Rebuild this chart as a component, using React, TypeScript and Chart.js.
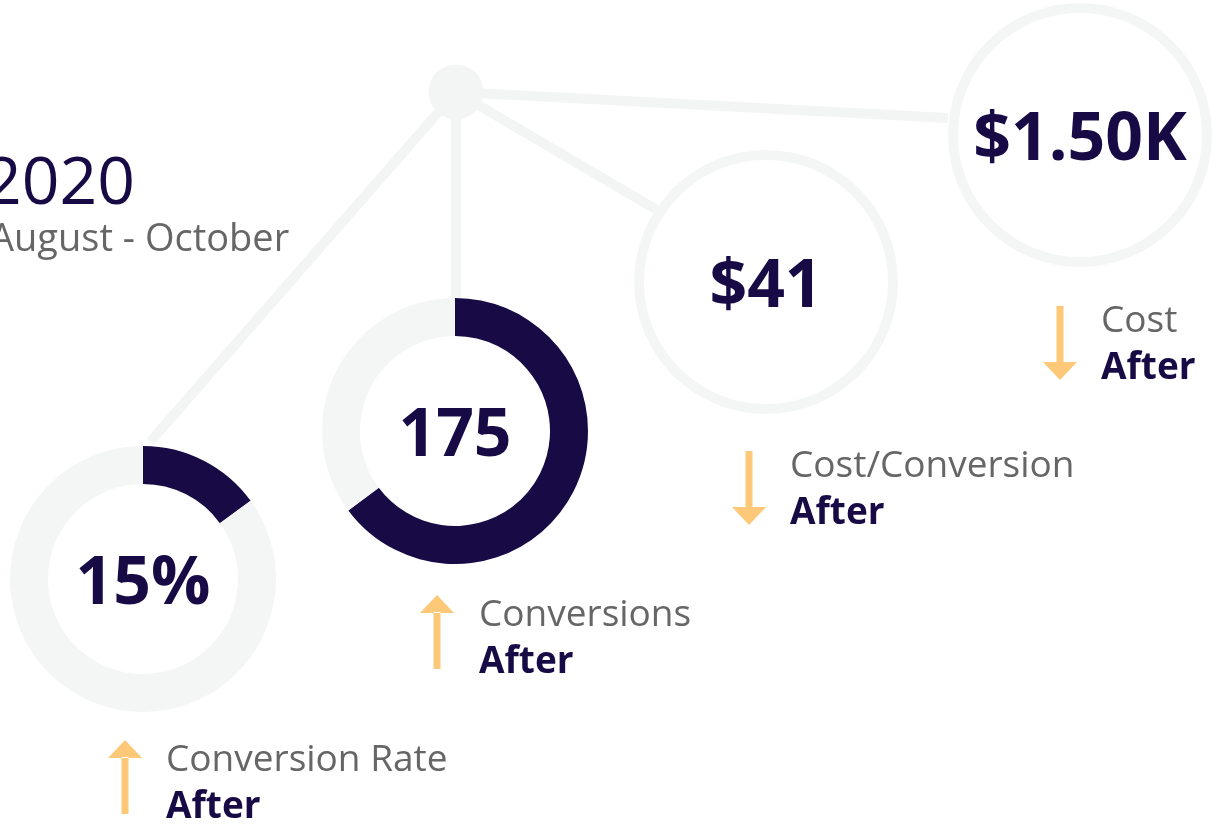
import React, { useEffect, useRef } from "react";
import { Chart, registerables } from "chart.js";

Chart.register(...registerables);

// ---- data ----
const metricNames = ["Conversion Rate", "Conversions", "Cost/Conversion", "Cost"];
const metricValues = [15, 175, 41, 1500];
const metricScaleMax = [100, 270, 41, 1500];
const metricDisplay = ["15%", "175", "$41", "$1.50K"];
const metricTrend = ["up", "up", "down", "down"];
const compareLabel = "After";
const periodYear = "2020";
const periodRange = "August - October";

// ---- styles / layout ----
const W = 1218;
const H = 832;
const FONT = '"Open Sans", "Noto Sans", sans-serif';
const NAVY = "#170a45";
const RING_GREY = "#f4f6f5";
const LINE_GREY = "#f3f5f4";
const ORANGE = "#fdc878";
const TEXT_GREY = "#666666";

const ringLayout = [
  { cx: 143, cy: 579, r: 133, thick: 38, kind: "progress" },
  { cx: 455, cy: 431, r: 133, thick: 38, kind: "progress" },
  { cx: 766, cy: 282, r: 132, thick: 10, kind: "outline" },
  { cx: 1080, cy: 135, r: 132, thick: 10, kind: "outline" },
];
const labelLayout = [
  { ax: 125, tx: 166, base: 771 },
  { ax: 437, tx: 479, base: 626 },
  { ax: 749, tx: 790, base: 477 },
  { ax: 1060, tx: 1101, base: 332 },
];
const hub = { x: 456, y: 92, r: 27.5 };
const connectorEnds = [
  { x: 150, y: 442 },
  { x: 456, y: 298 },
  { x: 657, y: 210 },
  { x: 948, y: 118 },
];

function drawArrow(ctx: CanvasRenderingContext2D, x: number, top: number, bottom: number, dir: string) {
  const headH = 18;
  const headW = 34;
  const shaft = 7;
  ctx.fillStyle = ORANGE;
  ctx.beginPath();
  if (dir === "up") {
    ctx.rect(x - shaft / 2, top + headH - 1, shaft, bottom - top - headH + 1);
    ctx.moveTo(x, top);
    ctx.lineTo(x - headW / 2, top + headH);
    ctx.lineTo(x + headW / 2, top + headH);
    ctx.closePath();
  } else {
    ctx.rect(x - shaft / 2, top, shaft, bottom - top - headH + 1);
    ctx.moveTo(x, bottom);
    ctx.lineTo(x - headW / 2, bottom - headH);
    ctx.lineTo(x + headW / 2, bottom - headH);
    ctx.closePath();
  }
  ctx.fill();
}

function Backdrop() {
  const ref = useRef<HTMLCanvasElement | null>(null);
  useEffect(() => {
    const backdrop = {
      id: "backdrop",
      beforeDraw(chart: any) {
        const ctx = chart.ctx as CanvasRenderingContext2D;
        ctx.save();
        ctx.strokeStyle = LINE_GREY;
        ctx.lineWidth = 10;
        connectorEnds.forEach((e) => {
          ctx.beginPath();
          ctx.moveTo(hub.x, hub.y);
          ctx.lineTo(e.x, e.y);
          ctx.stroke();
        });
        ctx.fillStyle = LINE_GREY;
        ctx.beginPath();
        ctx.arc(hub.x, hub.y, hub.r, 0, Math.PI * 2);
        ctx.fill();
        ctx.restore();
      },
      afterDraw(chart: any) {
        const ctx = chart.ctx as CanvasRenderingContext2D;
        ctx.save();
        ctx.textAlign = "left";
        ctx.textBaseline = "alphabetic";
        ctx.fillStyle = NAVY;
        ctx.font = `400 66px ${FONT}`;
        ctx.fillText(periodYear, -16, 204);
        ctx.fillStyle = TEXT_GREY;
        ctx.font = `400 38px ${FONT}`;
        ctx.fillText(periodRange, -10, 251);
        labelLayout.forEach((L, i) => {
          ctx.fillStyle = TEXT_GREY;
          ctx.font = `400 37px ${FONT}`;
          ctx.fillText(metricNames[i], L.tx, L.base);
          ctx.fillStyle = NAVY;
          ctx.font = `700 37px ${FONT}`;
          ctx.fillText(compareLabel, L.tx, L.base + 47);
          if (metricTrend[i] === "up") drawArrow(ctx, L.ax, L.base - 31, L.base + 43, "up");
          else drawArrow(ctx, L.ax, L.base - 26, L.base + 48, "down");
        });
        ctx.restore();
      },
    };
    const chart = new Chart(ref.current as HTMLCanvasElement, {
      type: "scatter",
      data: { datasets: [] },
      options: {
        responsive: false,
        animation: false,
        devicePixelRatio: 1,
        events: [],
        layout: { padding: 0 },
        scales: {
          x: { display: false, min: 0, max: W },
          y: { display: false, min: 0, max: H, reverse: true },
        },
        plugins: { legend: { display: false }, tooltip: { enabled: false } },
      },
      plugins: [backdrop],
    });
    if ((document as any).fonts) (document as any).fonts.ready.then(() => chart.draw());
    return () => chart.destroy();
  }, []);
  return (
    <canvas
      ref={ref}
      width={W}
      height={H}
      style={{ position: "absolute", left: 0, top: 0, width: W, height: H }}
    />
  );
}

function Ring({ index }: { index: number }) {
  const ref = useRef<HTMLCanvasElement | null>(null);
  const L = ringLayout[index];
  useEffect(() => {
    const value = metricValues[index];
    const rest = Math.max(metricScaleMax[index] - value, 0);
    const colors = L.kind === "progress" ? [NAVY, RING_GREY] : [RING_GREY, RING_GREY];
    const centerText = {
      id: "centerText",
      afterDraw(chart: any) {
        const ctx = chart.ctx as CanvasRenderingContext2D;
        const a = chart.chartArea;
        const x = (a.left + a.right) / 2;
        const y = (a.top + a.bottom) / 2;
        ctx.save();
        ctx.font = `700 66px ${FONT}`;
        ctx.fillStyle = NAVY;
        ctx.textAlign = "center";
        ctx.textBaseline = "alphabetic";
        ctx.fillText(metricDisplay[index], x, y + 25);
        ctx.restore();
      },
    };
    const chart = new Chart(ref.current as HTMLCanvasElement, {
      type: "doughnut",
      data: {
        labels: [metricNames[index], "Remaining"],
        datasets: [
          {
            data: [value, rest],
            backgroundColor: colors,
            borderWidth: 0,
            hoverOffset: 0,
            offset: 0,
          },
        ],
      },
      options: {
        responsive: false,
        animation: false,
        devicePixelRatio: 1,
        events: [],
        cutout: `${((L.r - L.thick) / L.r) * 100}%`,
        layout: { padding: 0 },
        plugins: { legend: { display: false }, tooltip: { enabled: false } },
      },
      plugins: [centerText],
    });
    if ((document as any).fonts) (document as any).fonts.ready.then(() => chart.draw());
    return () => chart.destroy();
  }, [index]);
  return (
    <canvas
      ref={ref}
      width={L.r * 2}
      height={L.r * 2}
      style={{ position: "absolute", left: L.cx - L.r, top: L.cy - L.r, width: L.r * 2, height: L.r * 2 }}
    />
  );
}

export default function App() {
  return (
    <div
      style={{
        position: "absolute",
        left: 0,
        top: 0,
        width: W,
        height: H,
        overflow: "hidden",
        background: "#ffffff",
      }}
    >
      <Backdrop />
      {ringLayout.map((_, i) => (
        <Ring key={i} index={i} />
      ))}
    </div>
  );
}
